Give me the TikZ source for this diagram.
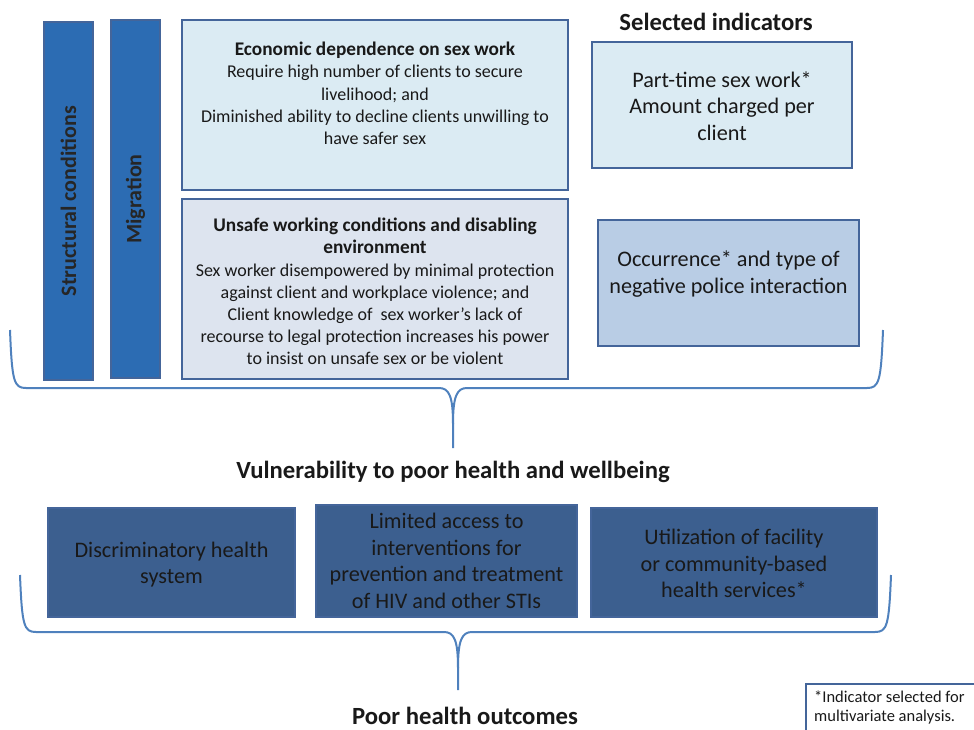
\documentclass[tikz,border=0pt]{standalone}
\usepackage{fontspec}
\setmainfont{Carlito}
\usetikzlibrary{positioning}
\definecolor{barblue}{HTML}{2C6CB3}
\definecolor{edgeblue}{HTML}{44659A}
\definecolor{paleblue}{HTML}{DBEBF3}
\definecolor{greyblue}{HTML}{DDE4EF}
\definecolor{midblue}{HTML}{B9CDE5}
\definecolor{darkblue}{HTML}{3C5F8F}
\definecolor{braceblue}{HTML}{4F81BD}
\tikzset{%
  bar/.style={draw=edgeblue,fill=barblue,line width=1.2pt,inner sep=0pt},
  bartext/.style={rotate=90,font=\bfseries\fontsize{22pt}{26pt}\selectfont,text=black!85},
  box/.style={draw=edgeblue,line width=1.8pt,inner sep=0pt},
  boxtext/.style={align=center,inner sep=0pt,font=\fontsize{18pt}{22.1pt}\selectfont,text=black!90},
  indtext/.style={align=center,inner sep=0pt,font=\fontsize{22.2pt}{26.5pt}\selectfont,text=black!90},
  bottext/.style={align=center,inner sep=0pt,font=\fontsize{22.2pt}{26.5pt}\selectfont,text=black!90},
  head/.style={inner sep=0pt,font=\bfseries\fontsize{24.7pt}{28pt}\selectfont,text=black!90},
  brace line/.style={draw=braceblue,line width=2pt},
  pics/curly brace/.style={code={%
      \tikzset{curly brace/.cd,#1}%
      \pgfkeysgetvalue{/tikz/curly brace/l}\bl
      \pgfkeysgetvalue{/tikz/curly brace/r}\brt
      \pgfkeysgetvalue{/tikz/curly brace/h}\bh
      \pgfkeysgetvalue{/tikz/curly brace/d}\bd
      % left half, with the tip
      \draw[brace line] (-\bl,-\bh) .. controls (-\bl+2,-6) and (-\bl+4,0) .. (-\bl+16,0)
        -- (-14,0) .. controls (-4,0) and (0,8) .. (0,36) -- (0,\bd);
      % right half
      \draw[brace line] (\brt,-\bh) .. controls (\brt-2,-6) and (\brt-4,0) .. (\brt-16,0)
        -- (14,0) .. controls (4,0) and (0,8) .. (0,36);
    }
  },
  curly brace/.cd,
  l/.initial=400,
  r/.initial=400,
  h/.initial=58,
  d/.initial=60,
}

\newcommand{\BoxTitle}[1]{{\bfseries\fontsize{19.3pt}{22pt}\selectfont #1}}

\begin{document}
\begin{tikzpicture}[x=1pt,y=-1pt]
  \useasboundingbox (0,0) rectangle (974,730);
  % vertical bars
  \node[bar,minimum width=49pt,minimum height=358pt] (struct) at (68.5,201) {};
  \node[bartext] (structlbl) at (struct.center) {Structural conditions};
  \node[bar,minimum width=49pt,minimum height=358pt] (migr) at (135.5,199) {};
  \node[bartext] (migrlbl) at (migr.center) {Migration};
  % pathway boxes
  \node[box,fill=paleblue,minimum width=386pt,minimum height=170pt] (econ) at (375,105) {};
  \node[boxtext,below=23pt of econ.north] (econtxt) {\BoxTitle{Economic dependence on sex work}\\
    Require high number of clients to secure\\ livelihood; and\\
    Diminished ability to decline clients unwilling to\\ have safer sex};
  \node[box,fill=greyblue,minimum width=386pt,minimum height=180pt] (unsafe) at (375,289) {};
  \node[boxtext,below=20pt of unsafe.north] (unsafetxt) {\BoxTitle{Unsafe working conditions and disabling}\\
    \BoxTitle{environment}\\
    Sex worker disempowered by minimal protection\\ against client and workplace violence; and\\
    Client knowledge of\ \ sex worker’s lack of\\ recourse to legal protection increases his power\\
    to insist on unsafe sex or be violent};
  % indicators
  \node[head] (sel) at (716,22) {Selected indicators};
  \node[box,fill=paleblue,minimum width=260pt,minimum height=126pt] (part) at (722,105) {};
  \node[indtext] (parttxt) at ([yshift=-1pt]part.center) {Part-time sex work*\\ Amount charged per\\ client};
  \node[box,fill=midblue,minimum width=261pt,minimum height=126pt] (occ) at (728.5,283) {};
  \node[indtext] (occtxt) at ([yshift=9pt]occ.center) {Occurrence* and type of\\ negative police interaction};
  % first brace
  \pic at (453,388) {curly brace={l=443,r=430,h=58,d=60}};
  \node[head] (vuln) at (453,472) {Vulnerability to poor health and wellbeing};
  % health system boxes
  \node[box,fill=darkblue,minimum width=247pt,minimum height=109pt] (disc) at (171.5,562.5) {};
  \node[bottext] (disctxt) at ([yshift=-2pt]disc.center) {Discriminatory health\\ system};
  \node[box,fill=darkblue,minimum width=261pt,minimum height=112pt] (lim) at (446.5,561) {};
  \node[bottext] (limtxt) at (lim.center) {Limited access to\\ interventions for\\ prevention and treatment\\ of HIV and other STIs};
  \node[box,fill=darkblue,minimum width=286pt,minimum height=109pt] (util) at (734,562.5) {};
  \node[bottext] (utiltxt) at ([yshift=-1pt]util.center) {Utilization of facility\\ or community-based\\ health services*};
  % second brace
  \pic at (458,632) {curly brace={l=438,r=433,h=57,d=58}};
  \node[head] (poor) at (465,716) {Poor health outcomes};
  % footnote
  \node[draw=edgeblue,line width=1.5pt,anchor=north west,minimum width=200pt,minimum height=70pt] (fnbox) at (805,683) {};
  \node[anchor=north west,align=left,inner sep=0pt,font=\fontsize{16.5pt}{19pt}\selectfont,text=black!90] (fntxt) at (814,691) {*Indicator selected for\\ multivariate analysis.};
\end{tikzpicture}
\end{document}
